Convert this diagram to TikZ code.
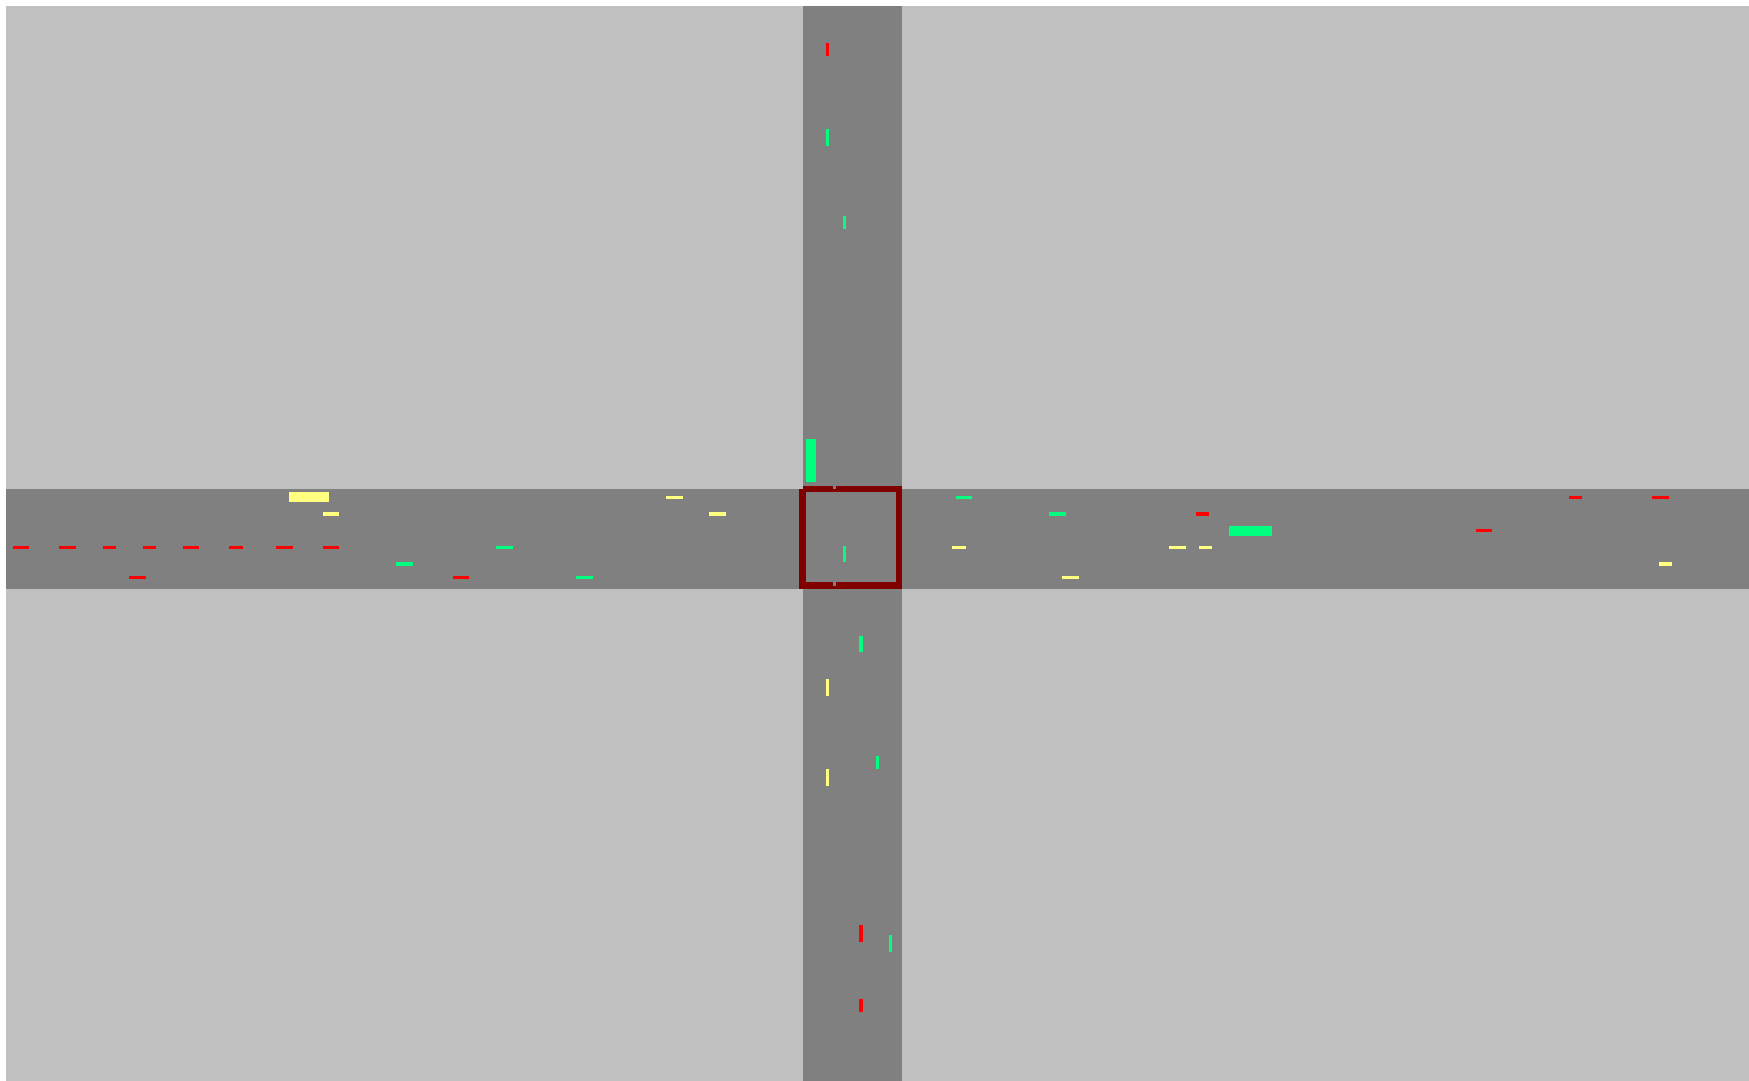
\documentclass[tikz,border=0pt]{standalone}
\begin{document}
\begin{tikzpicture}[x=1pt,y=-1pt,
  ground/.style={fill={rgb,255:red,192;green,192;blue,192}},
  road/.style={fill={rgb,255:red,128;green,128;blue,128}},
  boxline/.style={fill={rgb,255:red,128;green,0;blue,0}},
  carred/.style={fill={rgb,255:red,255;green,0;blue,0}},
  cargreen/.style={fill={rgb,255:red,0;green,255;blue,127}},
  caryellow/.style={fill={rgb,255:red,255;green,255;blue,128}}]
\useasboundingbox (0,0) rectangle (1749,1081);
\fill[white] (0,0) rectangle (1749,1081);
\fill[ground] (6,6) rectangle (1749,1081);
% roads
\fill[road] (6,489) rectangle (1749,589);
\fill[road] (803,6) rectangle (902,1081);
% intersection box
\fill[boxline] (803,486) rectangle (902,492);
\fill[boxline] (799,582) rectangle (902,589);
\fill[boxline] (799,489) rectangle (806,589);
\fill[boxline] (896,486) rectangle (902,589);
\fill[road] (833,486) rectangle (836,489);
\fill[road] (833,582) rectangle (836,586);
% horizontal road, left part
\fill[caryellow] (289,492) rectangle (329,502);
\fill[caryellow] (323,512) rectangle (339,516);
\fill[carred] (13,546) rectangle (29,549);
\fill[carred] (59,546) rectangle (76,549);
\fill[carred] (103,546) rectangle (116,549);
\fill[carred] (143,546) rectangle (156,549);
\fill[carred] (183,546) rectangle (199,549);
\fill[carred] (229,546) rectangle (243,549);
\fill[carred] (276,546) rectangle (293,549);
\fill[carred] (323,546) rectangle (339,549);
\fill[cargreen] (496,546) rectangle (513,549);
\fill[cargreen] (396,562) rectangle (413,566);
\fill[carred] (129,576) rectangle (146,579);
\fill[carred] (453,576) rectangle (469,579);
\fill[cargreen] (576,576) rectangle (593,579);
\fill[caryellow] (666,496) rectangle (683,499);
\fill[caryellow] (709,512) rectangle (726,516);
% horizontal road, right part
\fill[cargreen] (956,496) rectangle (972,499);
\fill[cargreen] (1049,512) rectangle (1066,516);
\fill[carred] (1196,512) rectangle (1209,516);
\fill[cargreen] (1229,526) rectangle (1272,536);
\fill[caryellow] (952,546) rectangle (966,549);
\fill[caryellow] (1169,546) rectangle (1186,549);
\fill[caryellow] (1199,546) rectangle (1212,549);
\fill[caryellow] (1062,576) rectangle (1079,579);
\fill[carred] (1569,496) rectangle (1582,499);
\fill[carred] (1652,496) rectangle (1669,499);
\fill[carred] (1476,529) rectangle (1492,532);
\fill[caryellow] (1659,562) rectangle (1672,566);
% vertical road, top part
\fill[carred] (826,43) rectangle (829,56);
\fill[cargreen] (826,129) rectangle (829,146);
\fill[cargreen] (843,216) rectangle (846,229);
\fill[cargreen] (806,439) rectangle (816,482);
% inside the box
\fill[cargreen] (843,546) rectangle (846,562);
% vertical road, bottom part
\fill[cargreen] (859,636) rectangle (863,652);
\fill[caryellow] (826,679) rectangle (829,696);
\fill[cargreen] (876,756) rectangle (879,769);
\fill[caryellow] (826,769) rectangle (829,786);
\fill[carred] (859,925) rectangle (863,942);
\fill[cargreen] (889,935) rectangle (892,952);
\fill[carred] (859,999) rectangle (863,1012);
\end{tikzpicture}
\end{document}
